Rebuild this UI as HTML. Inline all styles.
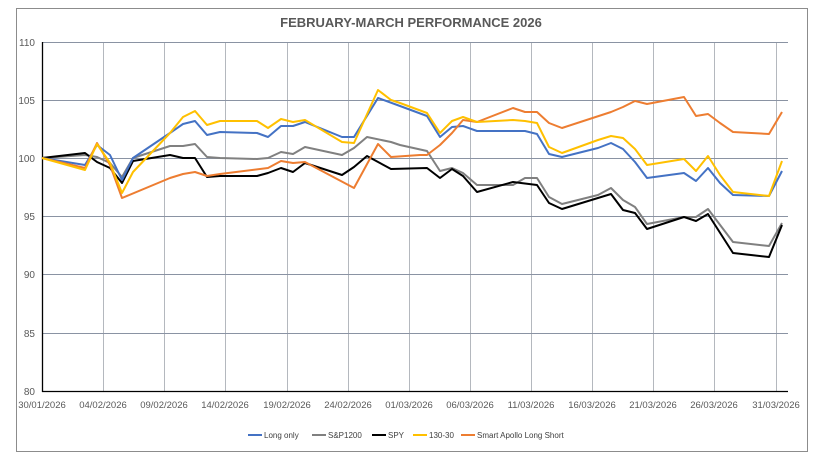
<!DOCTYPE html>
<html><head><meta charset="utf-8"><style>
html,body{margin:0;padding:0;background:#fff;}
svg{display:block;font-family:"Liberation Sans Narrow","Liberation Sans",sans-serif;}
</style></head><body>
<svg width="822" height="462" viewBox="0 0 822 462">
<rect x="0" y="0" width="822" height="462" fill="#fff"/>
<rect x="16.5" y="8.5" width="791" height="443" fill="#fff" stroke="#8c8c8c" stroke-width="1"/>
<text x="411" y="27" text-anchor="middle" font-size="13" font-weight="bold" fill="#595959">FEBRUARY-MARCH PERFORMANCE 2026</text>
<g stroke="#b4b8be" stroke-width="1">
<line x1="103.5" y1="42" x2="103.5" y2="391"/><line x1="164.5" y1="42" x2="164.5" y2="391"/>
<line x1="225.5" y1="42" x2="225.5" y2="391"/><line x1="287.5" y1="42" x2="287.5" y2="391"/>
<line x1="348.5" y1="42" x2="348.5" y2="391"/><line x1="409.5" y1="42" x2="409.5" y2="391"/>
<line x1="470.5" y1="42" x2="470.5" y2="391"/><line x1="531.5" y1="42" x2="531.5" y2="391"/>
<line x1="592.5" y1="42" x2="592.5" y2="391"/><line x1="653.5" y1="42" x2="653.5" y2="391"/>
<line x1="714.5" y1="42" x2="714.5" y2="391"/><line x1="776.5" y1="42" x2="776.5" y2="391"/>
</g>
<g stroke="#8a93a3" stroke-width="1">
<line x1="42" y1="42.5" x2="788" y2="42.5"/><line x1="42" y1="100.5" x2="788" y2="100.5"/>
<line x1="42" y1="158.5" x2="788" y2="158.5"/><line x1="42" y1="216.5" x2="788" y2="216.5"/>
<line x1="42" y1="274.5" x2="788" y2="274.5"/><line x1="42" y1="333.5" x2="788" y2="333.5"/>
</g>
<line x1="42.5" y1="42" x2="42.5" y2="392" stroke="#000" stroke-width="1.3"/>
<line x1="42" y1="391.5" x2="788" y2="391.5" stroke="#000" stroke-width="1.3"/>
<g font-size="10" fill="#595959" text-anchor="end">
<text x="35" y="46">110</text><text x="35" y="104">105</text><text x="35" y="162">100</text>
<text x="35" y="220">95</text><text x="35" y="278">90</text><text x="35" y="337">85</text><text x="35" y="395">80</text>
</g>
<g font-size="9.5" fill="#595959" text-anchor="middle">
<text x="42" y="408">30/01/2026</text><text x="103" y="408">04/02/2026</text><text x="164" y="408">09/02/2026</text>
<text x="225" y="408">14/02/2026</text><text x="287" y="408">19/02/2026</text><text x="348" y="408">24/02/2026</text>
<text x="409" y="408">01/03/2026</text><text x="470" y="408">06/03/2026</text><text x="531" y="408">11/03/2026</text>
<text x="592" y="408">16/03/2026</text><text x="653" y="408">21/03/2026</text><text x="714" y="408">26/03/2026</text>
<text x="776" y="408">31/03/2026</text>
</g>
<g fill="none" stroke-width="2" stroke-linejoin="round">
<polyline stroke="#808080" points="42,158 85,155 97,157 110,163 122,177 133,158 170,146 183,146 195,144 207,157 220,158 257,159 268,158 281,152 293,154 305,147 342,155 354,148 367,137 391,142 400,145 427,151 440,171 452,168 463,173 477,185 513,185 525,178 537,178 549,197 562,204 598,195 611,188 623,200 635,207 647,224 684,217 696,217 708,209 733,242 769,246 782,223"/>
<polyline stroke="#000000" points="42,158 85,153 97,162 110,168 122,183 133,161 170,155 183,158 195,158 207,177 220,176 257,176 268,173 281,168 293,172 305,163 342,175 354,167 367,156 391,169 427,168 440,178 452,169 463,176 477,192 513,182 537,185 549,203 562,209 611,194 623,210 635,213 647,229 684,217 696,221 708,214 733,253 769,257 782,225"/>
<polyline stroke="#4472c4" points="42,158 85,165 97,145 110,155 122,180 133,158 170,133 183,124 195,121 207,135 220,132 257,133 268,137 281,126 293,126 305,122 342,137 354,137 378,98 400,106 427,116 440,137 452,127 463,126 477,131 513,131 525,131 537,134 549,154 562,157 598,148 611,143 623,149 635,162 647,178 684,173 696,181 708,168 720,183 733,195 769,196 782,171"/>
<polyline stroke="#ed7d31" points="42,158 85,168 97,143 110,165 122,198 170,178 183,174 195,172 207,176 220,174 268,168 281,161 293,163 305,162 354,188 378,144 391,157 420,155 427,155 440,145 452,133 463,120 477,122 513,108 525,112 537,112 549,123 562,128 611,112 623,107 635,101 647,104 684,97 696,116 708,114 720,123 733,132 769,134 782,112"/>
<polyline stroke="#ffc000" points="42,158 85,170 97,144 110,163 122,193 133,172 170,133 183,117 195,111 207,125 220,121 257,121 268,128 281,119 293,122 305,120 342,142 354,143 378,90 391,100 400,103 427,113 440,133 452,121 463,117 477,122 513,120 525,121 537,123 549,147 562,153 598,140 611,136 623,138 635,149 647,165 684,159 696,171 708,156 720,175 733,192 769,196 782,161"/>
</g>
<g font-size="8" fill="#404040">
<line x1="248" y1="435" x2="262" y2="435" stroke="#4472c4" stroke-width="2"/><text x="264" y="438">Long only</text>
<line x1="312" y1="435" x2="326" y2="435" stroke="#808080" stroke-width="2"/><text x="328" y="438">S&amp;P1200</text>
<line x1="372" y1="435" x2="386" y2="435" stroke="#000" stroke-width="2"/><text x="388" y="438">SPY</text>
<line x1="413" y1="435" x2="427" y2="435" stroke="#ffc000" stroke-width="2"/><text x="429" y="438">130-30</text>
<line x1="461" y1="435" x2="475" y2="435" stroke="#ed7d31" stroke-width="2"/><text x="477" y="438">Smart Apollo Long Short</text>
</g>
</svg>
</body></html>
